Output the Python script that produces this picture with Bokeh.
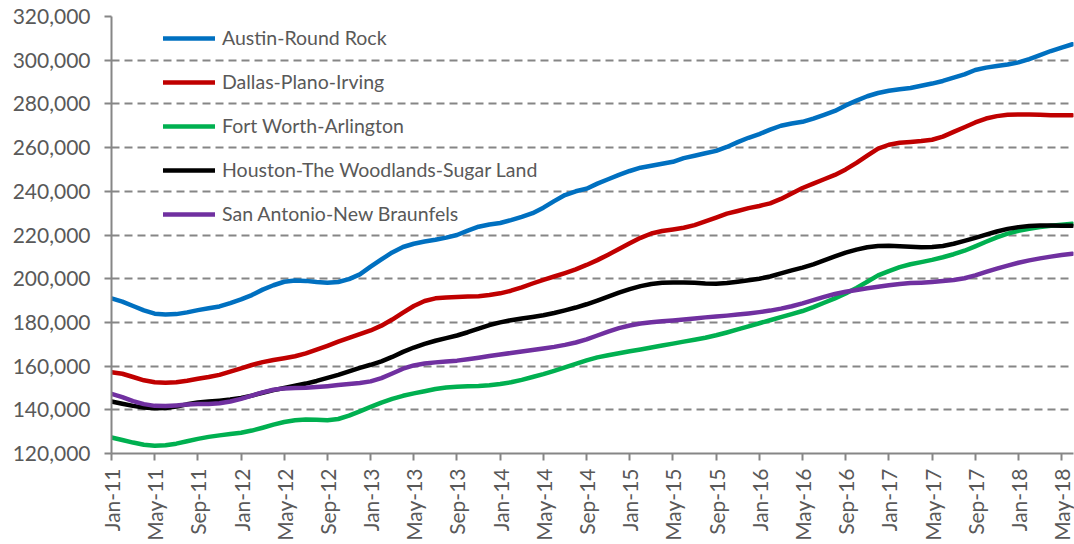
from bokeh.plotting import figure
from bokeh.models import Range1d, FixedTicker, Legend, LegendItem, NumeralTickFormatter
from bokeh.embed import file_html
from bokeh.resources import INLINE
import math

# Monthly median values, Jan-11 .. Jun-18 (in thousands of dollars)
austin = [191.0, 189.5, 187.5, 185.5, 184.0, 183.6, 183.8, 184.6, 185.6, 186.5,
          187.3, 188.8, 190.5, 192.5, 195.0, 197.0, 198.6, 199.2, 199.0, 198.5,
          198.2, 198.5, 199.8, 202.0, 205.5, 208.8, 212.0, 214.5, 216.0, 217.0,
          217.8, 218.8, 220.0, 222.0, 223.8, 224.8, 225.5, 226.8, 228.3, 230.0,
          232.5, 235.5, 238.3, 240.0, 241.2, 243.5, 245.5, 247.5, 249.3, 250.8,
          251.7, 252.6, 253.5, 255.2, 256.3, 257.4, 258.5, 260.3, 262.5, 264.5,
          266.2, 268.2, 270.0, 271.0, 271.8, 273.3, 275.0, 276.8, 279.3, 281.5,
          283.5, 285.0, 286.0, 286.7, 287.3, 288.3, 289.3, 290.5, 292.0, 293.5,
          295.5, 296.6, 297.3, 298.0, 299.0, 300.5, 302.3, 304.2, 305.8, 307.3]
dallas = [157.2, 156.5, 155.0, 153.5, 152.6, 152.4, 152.6, 153.3, 154.2, 155.0,
          156.0, 157.5, 159.0, 160.5, 161.8, 162.8, 163.6, 164.5, 165.8, 167.5,
          169.3, 171.2, 172.9, 174.6, 176.3, 178.5, 181.3, 184.5, 187.5, 189.8,
          191.0, 191.4, 191.6, 191.8, 192.0, 192.5, 193.3, 194.5, 196.0, 197.8,
          199.5, 201.0, 202.6, 204.3, 206.3, 208.5, 211.0, 213.6, 216.2, 218.7,
          220.7, 221.8, 222.5, 223.3, 224.5, 226.2, 228.0, 229.8, 231.0, 232.3,
          233.3, 234.5, 236.5, 239.0, 241.5, 243.5, 245.5, 247.5, 250.0, 253.0,
          256.3, 259.5, 261.3, 262.2, 262.6, 263.0, 263.6, 265.0, 267.2, 269.3,
          271.5, 273.3, 274.4, 275.0, 275.2, 275.2, 275.0, 274.8, 274.8, 274.8]
fort_worth = [127.3, 126.2, 125.0, 124.0, 123.6, 123.8, 124.5, 125.6, 126.7, 127.6,
              128.3, 128.9, 129.5, 130.5, 131.8, 133.2, 134.4, 135.2, 135.6, 135.5,
              135.2, 135.8, 137.3, 139.3, 141.3, 143.3, 145.0, 146.4, 147.5, 148.5,
              149.5, 150.2, 150.6, 150.8, 150.9, 151.2, 151.8, 152.6, 153.7, 155.0,
              156.3, 157.8, 159.4, 161.0, 162.6, 164.0, 165.0, 165.9, 166.8, 167.6,
              168.5, 169.4, 170.3, 171.2, 172.1, 173.0, 174.1, 175.4, 176.8, 178.2,
              179.6, 181.0, 182.4, 183.8, 185.2, 187.0, 189.0, 191.0, 193.2, 195.8,
              198.6, 201.5, 203.5, 205.3, 206.6, 207.6, 208.6, 209.8, 211.2, 212.8,
              214.8, 216.9, 218.9, 220.6, 221.9, 222.8, 223.6, 224.2, 224.7, 225.1]
houston = [143.8, 142.8, 141.8, 141.0, 140.7, 140.8, 141.5, 142.5, 143.3, 143.8,
           144.2, 144.7, 145.4, 146.5, 147.8, 149.0, 150.0, 151.0, 152.0, 153.2,
           154.6, 156.0, 157.6, 159.2, 160.6, 162.2, 164.2, 166.5, 168.5, 170.2,
           171.6, 172.8, 174.0, 175.5, 177.2, 178.8, 180.0, 181.0, 181.8, 182.5,
           183.3, 184.3, 185.5, 186.8, 188.3, 190.0, 191.8, 193.6, 195.2, 196.6,
           197.6, 198.1, 198.3, 198.3, 198.1, 197.8, 197.7, 198.0, 198.6, 199.3,
           200.0, 201.0, 202.4, 203.8, 205.1, 206.6, 208.4, 210.2, 211.9, 213.3,
           214.4, 215.0, 215.1, 214.9, 214.6, 214.4, 214.5, 215.0, 216.0, 217.3,
           218.7, 220.2, 221.6, 222.8, 223.6, 224.1, 224.3, 224.3, 224.2, 224.2]
san_antonio = [147.3, 145.8, 144.0, 142.6, 141.8, 141.7, 142.0, 142.4, 142.6, 142.7,
               143.0, 143.8, 145.0, 146.5, 148.0, 149.2, 149.8, 150.0, 150.1, 150.4,
               150.8, 151.3, 151.8, 152.3, 153.0, 154.5, 156.6, 158.8, 160.3, 161.2,
               161.7, 162.1, 162.5, 163.1, 163.8, 164.6, 165.3, 166.0, 166.7, 167.4,
               168.1, 168.8, 169.7, 170.8, 172.2, 174.0, 175.8, 177.4, 178.6, 179.5,
               180.1, 180.5, 180.9, 181.3, 181.8, 182.3, 182.7, 183.1, 183.6, 184.1,
               184.7, 185.4, 186.3, 187.4, 188.7, 190.2, 191.7, 193.0, 194.0, 194.8,
               195.6, 196.3, 197.0, 197.6, 198.0, 198.2, 198.5, 198.9, 199.4, 200.2,
               201.5, 203.1, 204.6, 206.0, 207.3, 208.4, 209.3, 210.1, 210.8, 211.4]

series_names = ["Austin-Round Rock", "Dallas-Plano-Irving", "Fort Worth-Arlington",
                "Houston-The Woodlands-Sugar Land", "San Antonio-New Braunfels"]
series_colors = ["#0070C0", "#C00000", "#00B050", "#000000", "#7030A0"]

tick_labels = ["Jan-11", "May-11", "Sep-11", "Jan-12", "May-12", "Sep-12",
               "Jan-13", "May-13", "Sep-13", "Jan-14", "May-14", "Sep-14",
               "Jan-15", "May-15", "Sep-15", "Jan-16", "May-16", "Sep-16",
               "Jan-17", "May-17", "Sep-17", "Jan-18", "May-18"]
y_ticks = [120000, 140000, 160000, 180000, 200000, 220000, 240000,
           260000, 280000, 300000, 320000]

FONT = "Lato"
TXT = "#595959"
GRID = "#868686"

p = figure(width=1074, height=544, output_backend="svg", toolbar_location=None,
           x_range=Range1d(0, 89.1), y_range=Range1d(120000, 320000),
           min_border_left=111, min_border_right=1, min_border_top=16,
           min_border_bottom=91)
p.outline_line_color = None
p.background_fill_color = "white"

all_series = [austin, dallas, fort_worth, houston, san_antonio]
renderers = []
for vals, color in zip(all_series, series_colors):
    xs = list(range(len(vals)))
    ys = [v * 1000 for v in vals]
    r = p.line(xs, ys, line_color=color, line_width=4.5, line_join="round",
               line_cap="round")
    renderers.append(r)

# Axes
p.xaxis.ticker = FixedTicker(ticks=[i * 4 for i in range(len(tick_labels))])
p.xaxis.major_label_overrides = {i * 4: lab for i, lab in enumerate(tick_labels)}
p.xaxis.major_label_orientation = math.pi / 2
p.xaxis.minor_tick_line_color = None
p.xaxis.major_tick_out = 7
p.xaxis.major_tick_in = 0
p.xaxis.major_label_standoff = 8
p.xaxis.axis_line_color = GRID
p.xaxis.axis_line_width = 2
p.xaxis.major_tick_line_color = GRID
p.xaxis.major_tick_line_width = 2

p.yaxis.ticker = FixedTicker(ticks=y_ticks)
p.yaxis.formatter = NumeralTickFormatter(format="0,0")
p.yaxis.minor_tick_line_color = None
p.yaxis.major_tick_out = 7
p.yaxis.major_tick_in = 0
p.yaxis.major_label_standoff = 14
p.yaxis.axis_line_color = GRID
p.yaxis.axis_line_width = 2
p.yaxis.major_tick_line_color = GRID
p.yaxis.major_tick_line_width = 2

for ax in (p.xaxis, p.yaxis):
    ax.major_label_text_font = FONT
    ax.major_label_text_font_size = "21px"
    ax.major_label_text_color = TXT

p.xgrid.grid_line_color = None
p.ygrid.grid_line_color = GRID
p.ygrid.grid_line_width = 2
p.ygrid.grid_line_dash = "8 5"

legend = Legend(items=[LegendItem(label=n, renderers=[r])
                       for n, r in zip(series_names, renderers)],
                location=(52, 228), orientation="vertical",
                padding=0, margin=0, spacing=21,
                glyph_width=52, glyph_height=20, label_height=20,
                label_standoff=7,
                label_text_font=FONT, label_text_font_size="19.5px",
                label_text_color=TXT,
                border_line_color=None, background_fill_alpha=0)
p.add_layout(legend, "center")

open("out.html", "w").write(file_html(p, INLINE))
